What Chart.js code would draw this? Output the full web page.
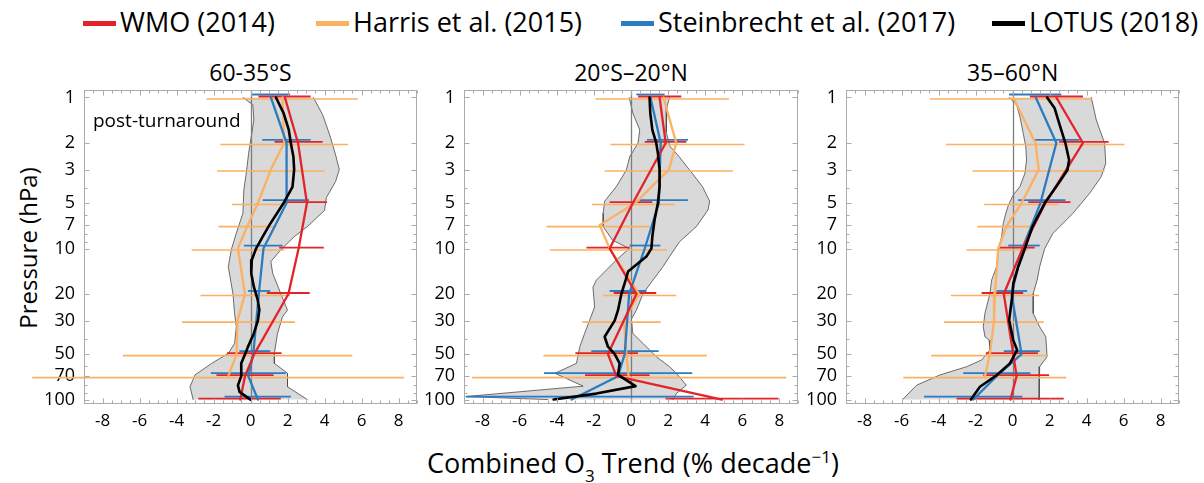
<!DOCTYPE html>
<html><head><meta charset="utf-8">
<script src="https://cdn.jsdelivr.net/npm/chart.js@4.4.0/dist/chart.umd.min.js"></script>
<style>
html,body{margin:0;padding:0;background:#fff;}
body{width:1204px;height:483px;overflow:hidden;position:relative;font-family:"Open Sans",sans-serif;color:#000;}
canvas{position:absolute;top:0;}
.t{position:absolute;white-space:nowrap;}
.lg{position:absolute;top:5px;height:34px;line-height:34px;font-size:27px;white-space:nowrap;}
.sw{display:inline-block;width:33px;height:5px;vertical-align:middle;margin-right:4px;position:relative;top:-1px;}
.title{position:absolute;top:58px;line-height:28px;font-size:23px;transform:translateX(-50%);white-space:nowrap;}
sub,sup{line-height:0;}
</style></head><body>
<div class="lg" style="left:83px"><span class="sw" style="background:#e3232b"></span>WMO (2014)</div>
<div class="lg" style="left:316px"><span class="sw" style="background:#fbb062"></span>Harris et al. (2015)</div>
<div class="lg" style="left:621px"><span class="sw" style="background:#2a7bbf"></span>Steinbrecht et al. (2017)</div>
<div class="lg" style="left:992px"><span class="sw" style="background:#000"></span>LOTUS (2018)</div>
<div class="title" style="left:250.5px">60-35°S</div>
<div class="title" style="left:631px">20°S–20°N</div>
<div class="title" style="left:1012.6px">35–60°N</div>
<div class="t" style="left:633px;top:446px;font-size:27px;line-height:34px;transform:translateX(-50%)">Combined O<sub style="font-size:17px;vertical-align:-0.5em">3</sub> Trend (% decade<sup style="font-size:17px">−1</sup>)</div>
<div class="t" style="left:28px;top:248px;font-size:24px;line-height:28px;transform:translate(-50%,-50%) rotate(-90deg)">Pressure (hPa)</div>
<canvas id="c1" width="424" height="483" style="left:0px"></canvas>
<canvas id="c2" width="425" height="483" style="left:380px"></canvas>
<canvas id="c3" width="424" height="483" style="left:762px"></canvas>
<div class="t" style="left:93px;top:108px;font-size:19px;line-height:24px">post-turnaround</div>
<script>
// ---------------- DATA ----------------
const xTickValues = [-8,-6,-4,-2,0,2,4,6,8];
const yTickValues = [1,2,3,5,7,10,20,30,50,70,100];

const wmoLevels    = [1,2,5,10,20,50,70,100];
const harrisLevels = [1,2,3,5,7,10,20,30,50,70];
const steinLevels  = [1,2,5,10,20,50,70,100];

// 60-35°S
const wmoS      = [1.86, 2.57, 3.05, 2.6, 2.05, 0.2, -0.3, -0.55];
const wmoS_lo   = [0.43, 1.3, 1.95, 1.55, 0.88, -1.27, -1.84, -2.82];
const wmoS_hi   = [3.25, 3.9, 4.14, 3.96, 3.2, 1.68, 1.25, 1.64];
const harrisS    = [1.73, 1.82, 1.1, 0.4, -0.15, -0.68, -0.3, -0.7, -0.75, -1.2];
const harrisS_lo = [-2.38, -1.63, -1.8, -1.0, -1.73, -3.18, -2.7, -3.7, -6.9, -11.8];
const harrisS_hi = [5.8, 5.27, 4.0, 1.79, 1.38, 1.82, 2.14, 2.4, 5.5, 8.29];
const steinS    = [1.1, 1.95, 1.95, 0.7, 0.45, 0.15, -0.12, 0.4];
const steinS_lo = [0.09, 0.64, 0.66, -0.36, -0.14, -0.6, -2.14, -1.4];
const steinS_hi = [2.14, 3.25, 3.16, 1.73, 1.07, 1.07, 1.9, 2.18];
const lotusS_p  = [1, 1.27, 1.64, 2, 2.47, 3, 3.9, 5, 7, 8.35, 10, 11.9, 14.6, 17.9, 21.9, 25.5, 30, 36.5, 44.8, 50, 57.5, 70, 80.5, 89, 100];
const lotusS    = [1.375, 1.79, 2.07, 2.18, 2.32, 2.36, 2.27, 1.79, 1.02, 0.66, 0.3, 0.07, 0.04, 0.18, 0.39, 0.48, 0.4, 0.18, -0.14, -0.29, -0.5, -0.5, -0.68, -0.59, 0];
const envS_left  = [[-0.41,1],[0.13,1.12],[0.18,1.41],[0.04,1.82],[-0.1,2.34],[-0.23,3.18],[-0.36,4.09],[-0.41,5.84],[-0.77,7.93],[-1.04,10.2],[-1.2,13.2],[-0.95,19.9],[-0.86,26.9],[-0.77,33],[-0.86,42.5],[-1.2,49.5],[-2.1,57.6],[-3.0,68.7],[-3.27,82.3],[-3.1,100]];
const envS_right = [[3.4,1],[3.9,1.3],[4.3,1.8],[4.6,2.4],[4.8,3.0],[4.6,3.6],[4.1,4.6],[4.0,5.6],[3.07,7.16],[2.36,8.35],[1.64,10.2],[1.1,12.2],[1.2,14.6],[1.64,19.9],[2.0,25.6],[1.73,28.3],[1.46,36.5],[1.29,49.5],[1.29,57.6],[2.0,67],[2.0,82.3],[3.07,100]];

// 20°S–20°N
const wmoT      = [1.54, 1.87, 0.1, -1.15, 0.29, -1.24, -0.79, 4.9];
const wmoT_lo   = [0.38, 0.74, -1.15, -2.4, -0.93, -3.0, -2.48, 1.87];
const wmoT_hi   = [2.71, 2.98, 1.15, -0.07, 1.36, 0.38, 1.0, 7.95];
const harrisT    = [1.75, 2.44, 2.05, 0.23, -1.69, -1.15, 0.43, -0.38, -0.25, -0.13];
const harrisT_lo = [-1.92, -1.11, -1.42, -2.1, -4.56, -4.38, -1.5, -2.62, -4.72, -8.56];
const harrisT_hi = [5.28, 6.12, 5.49, 2.35, 1.0, 1.94, 2.44, 1.6, 4.09, 8.37];
const steinT    = [1.05, 1.6, 1.5, 0.74, -0.1, -0.34, -0.7, -3.2];
const steinT_lo = [0.29, 0.86, 0.47, -0.07, -1.15, -2.14, -4.69, -8.9];
const steinT_hi = [1.81, 3.07, 3.07, 1.58, 0.83, 1.49, 3.3, 3.38];
const lotusT_p  = [1, 1.27, 1.64, 2, 2.34, 3, 3.89, 5, 6.47, 8.35, 10, 11.3, 14.2, 16.2, 20, 25.6, 30, 38.4, 44.7, 50, 57.6, 68.7, 81.5, 91.3, 100];
const lotusT    = [1.0, 1.04, 1.15, 1.36, 1.45, 1.54, 1.54, 1.45, 1.27, 1.15, 1.1, 0.83, -0.16, -0.29, -0.52, -0.7, -0.88, -1.42, -1.24, -0.88, -0.61, -0.7, 0.25, -1.87, -4.17];
const envT_left  = [[-0.1,1],[0.1,1.27],[0.47,1.64],[0.38,2.0],[-0.07,2.47],[-0.25,3.02],[-0.79,3.89],[-1.42,4.86],[-1.5,5.84],[-1.5,7.16],[-1.0,8.8],[-0.1,10.0],[-0.79,11.9],[-1.33,13.9],[-1.87,16.2],[-2.05,18.0],[-1.96,24.4],[-2.23,29.8],[-2.5,36.5],[-2.76,44.7],[-2.94,57.6],[-4.1,67.0],[-2.58,81.5],[-8.9,95.5],[-4.5,100]];
const envT_right = [[2.08,1],[1.94,1.15],[1.9,1.41],[1.9,1.7],[2.1,2.1],[2.6,2.47],[3.3,3.18],[3.85,3.89],[4.24,4.86],[4.15,5.55],[3.52,7.16],[2.62,9.0],[2.08,11.3],[1.72,13.2],[1.18,16.2],[0.65,19.9],[0.29,25.6],[0.02,29.3],[0.1,36.5],[0.65,42.5],[1.36,52],[2.08,60.6],[2.44,67],[2.98,80.3],[2.44,91.3],[2.26,100]];

// 35–60°N
const wmoN      = [2.37, 3.81, 1.78, 0.54, -0.47, 0.04, 0.22, -0.11];
const wmoN_lo   = [0.94, 2.52, 0.85, -0.68, -1.67, -1.44, -1.58, -3.02];
const wmoN_hi   = [3.81, 5.2, 3.13, 1.2, 0.58, 1.38, 1.98, 2.77];
const harrisN    = [0.04, 1.24, 1.42, 0.49, -0.29, -0.77, -0.95, -1.0, -1.22, -1.49];
const harrisN_lo = [-4.46, -3.6, -2.16, -1.53, -1.9, -2.48, -3.33, -3.7, -4.4, -5.9];
const harrisN_hi = [4.32, 6.06, 4.98, 2.46, 0.97, 0.85, 1.44, 1.69, 1.89, 2.91];
const steinN    = [1.26, 2.37, 1.51, 0.54, -0.05, 0.49, -0.86, -2.12];
const steinN_lo = [-0.18, 1.22, 0.31, -0.23, -0.86, -0.47, -2.66, -4.78];
const steinN_hi = [2.64, 3.63, 2.86, 1.47, 0.79, 1.47, 0.97, 0.54];
const lotusN_p  = [1, 1.18, 1.48, 2.01, 2.59, 3.02, 3.89, 5.0, 7.16, 10, 13.2, 17.1, 20, 29.8, 40.4, 47, 57.6, 69, 82.3, 100];
const lotusN    = [1.87, 2.28, 2.52, 2.86, 3.06, 2.97, 2.37, 1.74, 1.08, 0.67, 0.31, 0.04, 0, -0.18, 0.04, 0.25, -0.14, -0.86, -1.76, -2.25];
const envN_left  = [[-0.18,1],[0.22,1.12],[0.4,1.34],[0.58,1.73],[0.72,2.12],[0.76,2.59],[0.67,3.18],[0.4,3.89],[0.04,4.42],[-0.23,5.2],[-0.36,5.84],[-0.5,6.81],[-0.59,8.35],[-0.77,10.5],[-0.86,13.2],[-1.13,16.2],[-1.22,19.9],[-1.49,26.9],[-1.58,33],[-1.49,38.4],[-1.26,40.4],[-1.22,47],[-1.67,54.7],[-2.48,60.6],[-3.92,68.7],[-5.18,80.3],[-5.94,100]];
const envN_right = [[4.26,1],[4.53,1.41],[4.98,2.01],[5.04,2.73],[4.8,3.34],[4.17,4.31],[3.27,5.84],[2.19,7.93],[1.74,10],[1.47,13.2],[1.33,16.2],[1.12,19.9],[1.12,26.9],[1.47,33],[1.8,38.4],[1.87,52],[1.47,60.6],[1.44,100]];

// ---------------- CHART ----------------
const FONT = '"Open Sans", sans-serif';
const COL = {red:'#e3232b', orange:'#fbb062', blue:'#2a7bbf', black:'#000000'};
const pts = (xs, ps) => xs.map((x, i) => ({x: x, y: ps[i]}));
const pairs = arr => arr.map(a => ({x: a[0], y: a[1]}));
const barsById = {};

const extras = {
  id: 'o3extras',
  beforeDatasetDraw(chart, args) {
    const ds = chart.data.datasets[args.index];
    if (!ds.barsBefore) return;
    const ctx = chart.ctx, xs = chart.scales.x, ys = chart.scales.y, a = chart.chartArea;
    ctx.save();
    const x0 = Math.round(xs.getPixelForValue(0)) + 0.5;
    ctx.strokeStyle = '#7d7d7d'; ctx.lineWidth = 1.3;
    ctx.beginPath(); ctx.moveTo(x0, a.top); ctx.lineTo(x0, a.bottom); ctx.stroke();
    for (const b of barsById[chart.canvas.id]) {
      ctx.strokeStyle = b.color; ctx.lineWidth = b.w;
      b.levels.forEach((p, i) => {
        const y = ys.getPixelForValue(p) + b.dy;
        ctx.beginPath();
        ctx.moveTo(xs.getPixelForValue(b.lo[i]), y);
        ctx.lineTo(xs.getPixelForValue(b.hi[i]), y);
        ctx.stroke();
      });
    }
    ctx.restore();
  },
  afterDraw(chart) {
    const ctx = chart.ctx, xs = chart.scales.x, ys = chart.scales.y, a = chart.chartArea;
    ctx.save();
    ctx.strokeStyle = '#ababab'; ctx.lineWidth = 1;
    const L = Math.round(a.left) + 0.5, R = Math.round(a.right) - 0.5, T = Math.round(a.top) + 0.5, B = Math.round(a.bottom) - 0.5;
    ctx.strokeRect(L, T, R - L, B - T);
    ctx.beginPath();
    for (let k = -18; k <= 18; k++) {
      const v = k / 2;
      const x = Math.round(xs.getPixelForValue(v)) + 0.5;
      const len = (k % 4 === 0) ? 5 : 3;
      ctx.moveTo(x, T); ctx.lineTo(x, T + len);
      ctx.moveTo(x, B); ctx.lineTo(x, B - len);
    }
    const yv = [];
    for (const d of [1, 10]) for (let k = 1; k <= 9; k++) yv.push(k * d);
    yv.push(100);
    for (const p of yv) {
      const y = Math.round(ys.getPixelForValue(p)) + 0.5;
      const len = yTickValues.includes(p) ? 5 : 3;
      ctx.moveTo(L, y); ctx.lineTo(L + len, y);
      ctx.moveTo(R, y); ctx.lineTo(R - len, y);
    }
    ctx.stroke();
    ctx.restore();
  }
};

function makePanel(id, d) {
  barsById[id] = [
    {levels: harrisLevels, lo: d.harrisLo, hi: d.harrisHi, color: COL.orange, dy: 1.5, w: 1.6},
    {levels: steinLevels, lo: d.steinLo, hi: d.steinHi, color: COL.blue, dy: -3, w: 1.8},
    {levels: wmoLevels, lo: d.wmoLo, hi: d.wmoHi, color: COL.red, dy: -1, w: 1.8}
  ];
  const poly = d.envL.concat(d.envR.slice().reverse());
  poly.push(d.envL[0]);
  const lineDs = (label, data, color, w, order, extra) => Object.assign({
    label, data, borderColor: color, borderWidth: w, pointRadius: 0, fill: false,
    tension: 0, order, borderJoinStyle: 'round', borderCapStyle: 'round'
  }, extra || {});
  new Chart(document.getElementById(id), {
    type: 'line',
    data: {
      datasets: [
        {label: 'env', data: pairs(poly), borderWidth: 0, borderColor: 'rgba(0,0,0,0)', backgroundColor: '#d9d9d9', fill: 'shape', pointRadius: 0, tension: 0, order: 10},
        lineDs('envL', pairs(d.envL), '#4a4a4a', 0.8, 9),
        lineDs('envR', pairs(d.envR), '#4a4a4a', 0.8, 8),
        lineDs('Harris et al. (2015)', pts(d.harris, harrisLevels), COL.orange, 2.3, 4, {barsBefore: true}),
        lineDs('Steinbrecht et al. (2017)', pts(d.stein, steinLevels), COL.blue, 2.3, 3),
        lineDs('WMO (2014)', pts(d.wmo, wmoLevels), COL.red, 2.3, 2),
        lineDs('LOTUS (2018)', pts(d.lotus, d.lotusP), COL.black, 2.6, 1)
      ]
    },
    options: {
      responsive: false, animation: false, devicePixelRatio: 1,
      layout: {padding: {top: 90, right: 7, left: 0, bottom: 0}},
      plugins: {legend: {display: false}, tooltip: {enabled: false}},
      events: [],
      scales: {
        x: {
          type: 'linear', min: -9, max: 9,
          afterBuildTicks: s => { s.ticks = xTickValues.map(v => ({value: v})); },
          afterFit: s => { s.height = 79; },
          grid: {display: false, drawTicks: false}, border: {display: false},
          ticks: {font: {family: FONT, size: 17}, color: '#000', padding: 7, maxRotation: 0, autoSkip: false, callback: v => String(v)}
        },
        y: {
          type: 'logarithmic', reverse: true, min: 0.892, max: 107,
          afterBuildTicks: s => { s.ticks = yTickValues.map(v => ({value: v})); },
          afterFit: s => { s.width = 84; },
          grid: {display: false, drawTicks: false}, border: {display: false},
          ticks: {font: {family: FONT, size: 18}, color: '#000', padding: 9, autoSkip: false, callback: v => String(v)}
        }
      }
    },
    plugins: [extras]
  });
}

makePanel('c1', {wmo: wmoS, wmoLo: wmoS_lo, wmoHi: wmoS_hi, harris: harrisS, harrisLo: harrisS_lo, harrisHi: harrisS_hi,
  stein: steinS, steinLo: steinS_lo, steinHi: steinS_hi, lotus: lotusS, lotusP: lotusS_p, envL: envS_left, envR: envS_right});
makePanel('c2', {wmo: wmoT, wmoLo: wmoT_lo, wmoHi: wmoT_hi, harris: harrisT, harrisLo: harrisT_lo, harrisHi: harrisT_hi,
  stein: steinT, steinLo: steinT_lo, steinHi: steinT_hi, lotus: lotusT, lotusP: lotusT_p, envL: envT_left, envR: envT_right});
makePanel('c3', {wmo: wmoN, wmoLo: wmoN_lo, wmoHi: wmoN_hi, harris: harrisN, harrisLo: harrisN_lo, harrisHi: harrisN_hi,
  stein: steinN, steinLo: steinN_lo, steinHi: steinN_hi, lotus: lotusN, lotusP: lotusN_p, envL: envN_left, envR: envN_right});
</script>
</body></html>
